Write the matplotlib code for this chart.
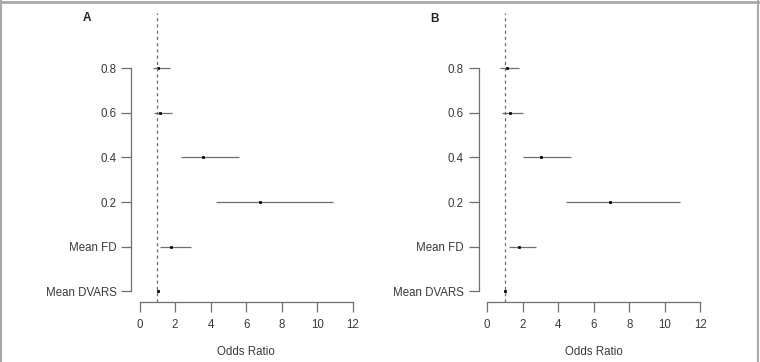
import matplotlib.pyplot as plt
from matplotlib.lines import Line2D

plt.rcParams['font.family'] = ['Liberation Sans', 'DejaVu Sans']

# Rows, bottom to top
labels = ["Mean DVARS", "Mean FD", "0.2", "0.4", "0.6", "0.8"]
xticks = [0, 2, 4, 6, 8, 10, 12]

# Panel A
or_a = [1.03, 1.76, 6.80, 3.56, 1.16, 1.05]
lo_a = [0.98, 1.14, 4.31, 2.32, 0.79, 0.73]
hi_a = [1.08, 2.88, 10.88, 5.58, 1.83, 1.70]

# Panel B
or_b = [1.03, 1.80, 6.89, 3.05, 1.27, 1.10]
lo_b = [0.98, 1.24, 4.44, 2.02, 0.84, 0.75]
hi_b = [1.08, 2.73, 10.84, 4.74, 2.00, 1.78]

W, H = 760, 362
TXT = "#3a3a3a"
LN = "#6e6e6e"
FS = 8.3

fig = plt.figure(figsize=(W / 100, H / 100), dpi=100)


def panel(left_px, tag, tag_xy, ors, los, his):
    ax = fig.add_axes([left_px / W, 1 - 302 / H, 230.5 / W, 289 / H])
    ys = list(range(1, len(labels) + 1))
    ax.hlines(ys, los, his, color=LN, lw=0.9)
    ax.plot(ors, ys, 's', color="black", ms=1.6, mec="black", mew=0.5)
    ax.axvline(1, color=LN, lw=0.9, ls=(0, (2.5, 2.5)))
    ax.set_xlim(-0.48, 12.48)
    ax.set_ylim(0.76, 7.24)
    ax.set_yticks(ys)
    ax.set_yticklabels(labels)
    ax.set_xticks(xticks)
    for s in ["top", "right"]:
        ax.spines[s].set_visible(False)
    ax.spines["left"].set_bounds(1, 6)
    ax.spines["bottom"].set_bounds(0, 12)
    for s in ["left", "bottom"]:
        ax.spines[s].set_color(LN)
        ax.spines[s].set_linewidth(0.9)
    ax.tick_params(axis="both", colors=LN, labelcolor=TXT, labelsize=FS,
                   length=7, width=0.9)
    ax.tick_params(axis="y", pad=3.5)
    ax.tick_params(axis="x", pad=5.2)
    ax.set_xlabel("Odds Ratio", fontsize=FS, color=TXT, labelpad=11)
    ax.patch.set_alpha(0)
    fig.text(tag_xy[0] / W, 1 - tag_xy[1] / H, tag, fontsize=8.5,
             fontweight="bold", color="#222222", ha="center", va="center")
    return ax


panel(131, "A", (87, 18), or_a, lo_a, hi_a)
panel(478.5, "B", (435, 19), or_b, lo_b, hi_b)

# grey frame (top, left, right)
bc = "#a8a8a8"
fig.add_artist(Line2D([1 / W, 1 / W], [0, 1 - 1 / H], color=bc, lw=1.5, transform=fig.transFigure))
fig.add_artist(Line2D([757.5 / W, 757.5 / W], [0, 1 - 1 / H], color=bc, lw=1.5, transform=fig.transFigure))
fig.add_artist(Line2D([0, 1], [1 - 1.5 / H, 1 - 1.5 / H], color=bc, lw=2, transform=fig.transFigure))

fig.savefig("out.png", dpi=100)
